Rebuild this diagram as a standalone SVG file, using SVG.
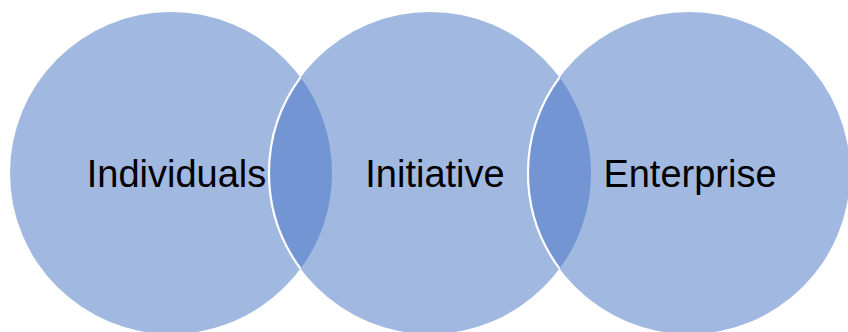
<svg xmlns="http://www.w3.org/2000/svg" width="848" height="332" viewBox="0 0 848 332">
<style>
.c{fill:#A1B8E1;stroke:none}
.lens{fill:#7395D3;stroke:none}
.edge{fill:none;stroke:#FFFFFF;stroke-width:2.2}
.t{font-family:"Liberation Sans",Arial,sans-serif;font-size:38px;fill:#000000;text-anchor:middle}
</style>
<rect width="848" height="332" fill="#FFFFFF"/>
<g id="individuals">
<circle class="c" cx="171" cy="173" r="161"/>
</g>
<g id="initiative">
<circle class="c" cx="430" cy="173" r="161"/>
</g>
<g id="enterprise">
<circle class="c" cx="689" cy="173" r="161"/>
</g>
<g id="overlaps">
<path class="lens" d="M300.5,77.3 A161,161 0 0 1 300.5,268.7 A161,161 0 0 1 300.5,77.3 Z"/>
<path class="lens" d="M559.5,77.3 A161,161 0 0 1 559.5,268.7 A161,161 0 0 1 559.5,77.3 Z"/>
<path class="edge" d="M300.5,77.3 A161,161 0 0 0 300.5,268.7"/>
<path class="edge" d="M559.5,77.3 A161,161 0 0 0 559.5,268.7"/>
</g>
<g id="labels">
<text class="t" x="176.5" y="187">Individuals</text>
<text class="t" x="435" y="187">Initiative</text>
<text class="t" x="690" y="187">Enterprise</text>
</g>
</svg>
